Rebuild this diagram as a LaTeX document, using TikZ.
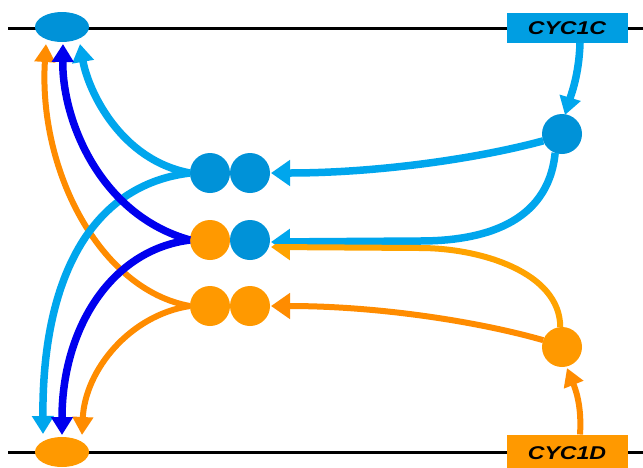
\documentclass[tikz,border=0pt]{standalone}
\usepackage{fontspec}
\setmainfont{Liberation Sans}
\usetikzlibrary{arrows.meta,shapes.geometric,calc}
\definecolor{cblue}{RGB}{0,146,216}
\definecolor{lblue}{RGB}{0,166,237}
\definecolor{boxblue}{RGB}{0,158,226}
\definecolor{dblue}{RGB}{0,0,238}
\definecolor{orng}{RGB}{255,153,0}
\definecolor{oarrow}{RGB}{255,140,0}
\definecolor{oarrowl}{RGB}{255,163,0}
\tikzset{
  dot/.style={circle,minimum size=40pt,inner sep=0pt,outer sep=0pt},
  memb/.style={ellipse,minimum width=54pt,minimum height=30pt,inner sep=0pt,outer sep=0pt},
  genebox/.style={rectangle,minimum width=121pt,inner sep=0pt,outer sep=0pt,
     font=\fontsize{18.5}{18.5}\selectfont\bfseries\itshape},
  conn/.style={line width=7.5pt,-{Triangle[length=18pt,width=21pt]}},
  connbig/.style={line width=7.5pt,-{Triangle[length=19pt,width=25pt]}},
  connthin/.style={line width=6pt,-{Triangle[length=18pt,width=20pt]}},
  connthinbig/.style={line width=6pt,-{Triangle[length=19pt,width=25pt]}},
}
\begin{document}
\begin{tikzpicture}[x=1pt,y=-1pt]
\useasboundingbox (0,0) rectangle (643,467);
\fill[white] (0,0) rectangle (643,467);
% membranes
\draw[line width=3pt,black] (8,28) coordinate (tl) -- (643,28) coordinate (tr);
\draw[line width=3pt,black] (8,452) coordinate (bl) -- (643,452) coordinate (br);
% nodes
\node[memb,fill=cblue] (topE) at (62,27) {};
\node[memb,fill=orng] (botE) at (62,452) {};
\node[genebox,fill=boxblue,minimum height=30pt] (boxC) at (567,28) {\scalebox{1.25}[1]{CYC1C}};
\node[genebox,fill=orng,minimum height=37pt] (boxD) at (567,453) {\scalebox{1.25}[1]{CYC1D}};
\node[dot,fill=cblue] (cB) at (562,134) {};
\node[dot,fill=orng] (cO) at (562,347) {};
\node[dot,fill=cblue] (p1a) at (210,173) {};
\node[dot,fill=cblue] (p1b) at (250,173) {};
\node[dot,fill=orng] (p2a) at (210,240) {};
\node[dot,fill=cblue] (p2b) at (250,240) {};
\node[dot,fill=orng] (p3a) at (210,306) {};
\node[dot,fill=orng] (p3b) at (250,306) {};
% right side
\draw[conn,color=lblue] ($(boxC.south)+(13,0)$) .. controls (579,75) and (571,95) .. ($(cB.north)+(3,1)$);
\draw[connthin,color=oarrow] ($(boxD.north)+(13,0)$) .. controls (582,405) and (575,388) .. ($(cO.south)+(5,1)$);
\draw[connbig,color=lblue] (cB.200) .. controls (480,158) and (380,173) .. ($(p1b.east)+(1,0)$);
\draw[connthinbig,color=oarrow] (cO.160) .. controls (480,322) and (380,306) .. ($(p3b.east)+(1,0)$);
\begin{scope}
\clip (260,100) rectangle (600,244.5);
\draw[connbig,color=lblue] (cB.250) .. controls (548,225) and (480,241) .. (420,241) -- ($(p2b.east)+(1,2)$);
\end{scope}
\begin{scope}
\clip (260,244.5) rectangle (600,340);
\draw[connthinbig,color=oarrowl] (cO.95) .. controls (560,272) and (480,248) .. (420,248) -- ($(p2b.east)+(1,7)$);
\end{scope}
% left side
\draw[conn,color=lblue] (p1a.west) .. controls (120,160) and (88,90) .. ($(topE.south)+(18,2)$);
\draw[connthin,color=oarrow] (p3a.west) .. controls (100,290) and (38,170) .. ($(topE.south)+(-16,2)$);
\draw[conn,color=lblue] (p1a.west) .. controls (90,185) and (42,280) .. ($(botE.north)+(-19,-3)$);
\draw[connthin,color=oarrow] (p3a.west) .. controls (130,315) and (85,370) .. ($(botE.north)+(20,-2)$);
\draw[conn,color=dblue] (p2a.west) .. controls (100,215) and (62,120) .. ($(topE.south)+(1,2)$);
\draw[conn,color=dblue] (p2a.west) .. controls (110,250) and (62,330) .. ($(botE.north)+(0,-2)$);
\end{tikzpicture}
\end{document}
